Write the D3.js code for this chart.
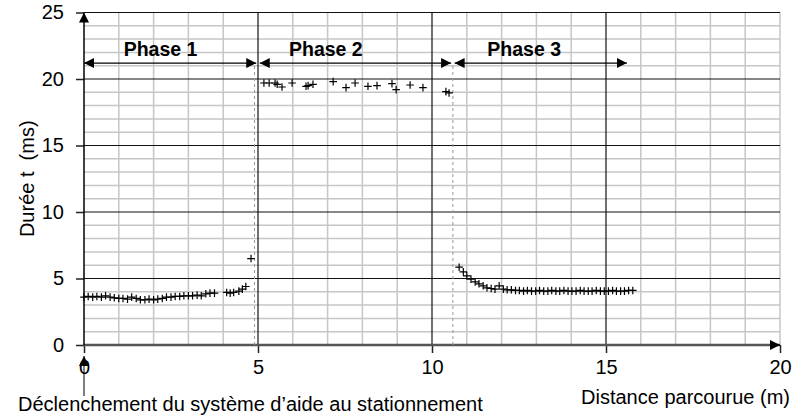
<!DOCTYPE html>
<html><head><meta charset="utf-8">
<script src="https://cdn.jsdelivr.net/npm/d3@7"></script>
<style>body{margin:0;background:#fff}svg{display:block;font-family:"Liberation Sans",Arial,sans-serif}</style>
</head><body><svg id="c" width="798" height="419"></svg>
<script>
const xTicks = [0, 5, 10, 15, 20];
const yTicks = [0, 5, 10, 15, 20, 25];
const phase1X = [0,0.12,0.25,0.37,0.5,0.62,0.75,0.87,1.0,1.12,1.25,1.37,1.5,1.62,1.75,1.87,2.0,2.12,2.25,2.37,2.5,2.62,2.75,2.87,3.0,3.12,3.25,3.37,3.5,3.62,3.75,4.1,4.2,4.3,4.45,4.55,4.65,4.8];
const phase1Y = [3.6,3.65,3.6,3.65,3.6,3.7,3.6,3.55,3.5,3.5,3.45,3.6,3.5,3.4,3.4,3.45,3.4,3.45,3.5,3.6,3.6,3.65,3.65,3.7,3.7,3.7,3.75,3.7,3.85,3.9,3.9,3.95,3.9,3.95,4.05,4.2,4.4,6.5];
const phase2X = [5.17,5.32,5.49,5.55,5.69,5.98,6.38,6.44,6.58,7.16,7.53,7.79,8.16,8.42,8.85,8.97,9.37,9.74,10.4,10.49];
const phase2Y = [19.7,19.7,19.7,19.6,19.4,19.7,19.45,19.5,19.6,19.8,19.35,19.7,19.45,19.5,19.65,19.2,19.55,19.35,19.05,18.95];
const phase3X = [10.78,10.9,11.0,11.12,11.24,11.35,11.47,11.58,11.7,11.81,11.93,12.05,12.16,12.28,12.4,12.51,12.63,12.74,12.86,12.98,13.09,13.21,13.33,13.44,13.56,13.67,13.79,13.91,14.02,14.14,14.26,14.37,14.49,14.6,14.72,14.84,14.95,15.07,15.19,15.3,15.42,15.53,15.65,15.77];
const phase3Y = [5.85,5.5,5.2,4.95,4.75,4.6,4.45,4.3,4.25,4.2,4.45,4.2,4.15,4.15,4.1,4.1,4.05,4.1,4.05,4.05,4.1,4.05,4.05,4.1,4.05,4.05,4.1,4.05,4.05,4.05,4.1,4.05,4.05,4.05,4.1,4.05,4.05,4.05,4.1,4.05,4.05,4.05,4.1,4.1];
const phases = [
  {label: "Phase 1", from: 0, to: 4.95, labelAt: 2.2},
  {label: "Phase 2", from: 5.05, to: 10.55, labelAt: 6.95},
  {label: "Phase 3", from: 10.65, to: 15.6, labelAt: 12.65}
];
const boundaries = [4.9, 10.6];
const xLabel = "Distance parcourue (m)";
const yLabel = "Durée t  (ms)";
const triggerLabel = "Déclenchement du système d’aide au stationnement";

const FS = 20;
const svg = d3.select("#c");
const x = d3.scaleLinear().domain([0, 20]).range([84, 780]);
const y = d3.scaleLinear().domain([0, 25]).range([345, 12.5]);

// minor grid
const minor = d3.range(0, 21, 1);
const minorY = d3.range(0, 26, 1);
svg.append("g").selectAll("line").data(minor.filter(v => v % 5 !== 0 || v === 20)).join("line")
  .attr("x1", d => x(d)).attr("x2", d => x(d)).attr("y1", y(0)).attr("y2", y(25))
  .attr("stroke", "#c6c6c6").attr("stroke-width", 1.5);
svg.append("g").selectAll("line").data(minorY.filter(v => v % 5 !== 0)).join("line")
  .attr("x1", x(0)).attr("x2", x(20)).attr("y1", d => y(d)).attr("y2", d => y(d))
  .attr("stroke", "#c6c6c6").attr("stroke-width", 1.5);
// major grid
svg.append("g").selectAll("line").data([5, 10, 15]).join("line")
  .attr("x1", d => x(d)).attr("x2", d => x(d)).attr("y1", y(0)).attr("y2", y(25))
  .attr("stroke", "#111").attr("stroke-width", 1.2);
svg.append("g").selectAll("line").data([5, 10, 15, 20, 25]).join("line")
  .attr("x1", x(0)).attr("x2", x(20)).attr("y1", d => y(d)).attr("y2", d => y(d))
  .attr("stroke", "#111").attr("stroke-width", 1.2);

// axes
const yAxis = d3.axisLeft(y).tickValues(yTicks).tickSize(8).tickPadding(12);
const gy = svg.append("g").attr("transform", `translate(${x(0)},0)`).call(yAxis);
gy.select(".domain").remove();
gy.selectAll("text").attr("font-size", FS).attr("font-family", "Liberation Sans, Arial").attr("fill", "#000");
gy.selectAll(".tick line").attr("stroke", "#222").attr("stroke-width", 1.5);
const xAxis = d3.axisBottom(x).tickValues(xTicks).tickSize(8).tickPadding(6);
const gx = svg.append("g").attr("transform", `translate(0,${y(0)})`).call(xAxis);
gx.select(".domain").remove();
gx.selectAll("text").attr("font-size", FS).attr("font-family", "Liberation Sans, Arial").attr("fill", "#000").attr("dy", "0.75em");
gx.selectAll(".tick line").attr("stroke", "#222").attr("stroke-width", 1.5);

// axis lines with arrows
const defs = svg.append("defs");
defs.append("marker").attr("id", "ah").attr("viewBox", "0 0 10 10").attr("refX", 10).attr("refY", 5)
  .attr("markerWidth", 10).attr("markerHeight", 10).attr("markerUnits", "userSpaceOnUse").attr("orient", "auto-start-reverse")
  .append("path").attr("d", "M0,0L10,5L0,10Z").attr("fill", "#000");
svg.append("line").attr("x1", x(0)).attr("x2", x(20)).attr("y1", y(0)).attr("y2", y(0))
  .attr("stroke", "#555").attr("stroke-width", 2.5);
svg.append("line").attr("x1", x(19.8)).attr("x2", x(20)).attr("y1", y(0)).attr("y2", y(0))
  .attr("stroke", "#000").attr("stroke-width", 1).attr("marker-end", "url(#ah)");
svg.append("line").attr("x1", x(0)).attr("x2", x(0)).attr("y1", y(0)).attr("y2", y(25))
  .attr("stroke", "#000").attr("stroke-width", 1.5).attr("marker-end", "url(#ah)");

// boundary dashed lines
svg.append("g").selectAll("line").data(boundaries).join("line")
  .attr("x1", d => x(d)).attr("x2", d => x(d)).attr("y1", y(0)).attr("y2", y(21.2))
  .attr("stroke", "#999").attr("stroke-width", 1).attr("stroke-dasharray", "3,3");

// phase arrows
const pg = svg.append("g");
pg.selectAll("line").data(phases).join("line")
  .attr("x1", d => x(d.from)).attr("x2", d => x(d.to)).attr("y1", y(21.2)).attr("y2", y(21.2))
  .attr("stroke", "#000").attr("stroke-width", 1.2)
  .attr("marker-start", "url(#ah)").attr("marker-end", "url(#ah)");
pg.selectAll("text").data(phases).join("text")
  .attr("x", d => x(d.labelAt)).attr("y", y(21.75)).attr("text-anchor", "middle")
  .attr("font-size", 19.5).attr("font-weight", "bold").text(d => d.label);

// data crosses
const pts = [];
[[phase1X, phase1Y], [phase2X, phase2Y], [phase3X, phase3Y]].forEach(([xs, ys]) => xs.forEach((v, i) => pts.push([v, ys[i]])));
const s = 3.8;
svg.append("g").selectAll("path").data(pts).join("path")
  .attr("d", d => `M${x(d[0]) - s},${y(d[1])}H${x(d[0]) + s}M${x(d[0])},${y(d[1]) - s}V${y(d[1]) + s}`)
  .attr("stroke", "#000").attr("stroke-width", 1.2).attr("fill", "none");

// labels
svg.append("text").attr("transform", `translate(34,${y(12.5)}) rotate(-90)`).attr("text-anchor", "middle")
  .attr("font-size", FS).style("white-space", "pre").text(yLabel);
svg.append("text").attr("x", 790).attr("y", 404).attr("text-anchor", "end").attr("font-size", FS).text(xLabel);
svg.append("text").attr("x", 18).attr("y", 411).attr("font-size", FS).text(triggerLabel);
svg.append("line").attr("x1", x(0)).attr("x2", x(0)).attr("y1", 396).attr("y2", 356)
  .attr("stroke", "#000").attr("stroke-width", 1).attr("marker-end", "url(#ah)");
</script></body></html>
